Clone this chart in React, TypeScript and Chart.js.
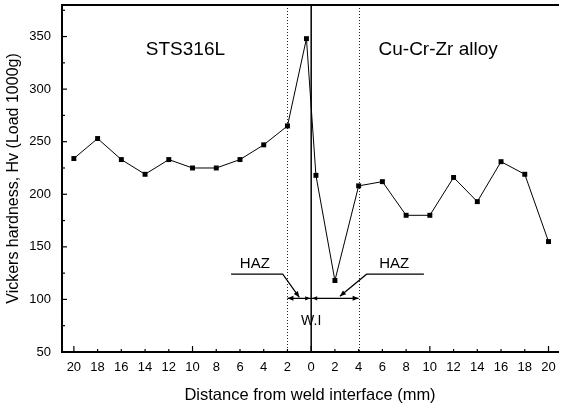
import React, { useEffect, useRef } from "react";
import { Chart, registerables } from "chart.js";

Chart.register(...registerables);

// ---- data ----
const distanceMm = [-20, -18, -16, -14, -12, -10, -8, -6, -4, -2, -0.4, 0.4, 2, 4, 6, 8, 10, 12, 14, 16, 18, 20];
const hardnessHv = [234, 253, 233, 219, 233, 225, 225, 233, 247, 265, 348, 218, 118, 208, 212, 180, 180, 216, 193, 231, 219, 155];
const xTickValues = [-20, -18, -16, -14, -12, -10, -8, -6, -4, -2, 0, 2, 4, 6, 8, 10, 12, 14, 16, 18, 20];
const yTickValues = [50, 100, 150, 200, 250, 300, 350];
const yMinorTicks = [75, 125, 175, 225, 275, 325, 375];
const hazBounds = [-2, 4];
const weldInterface = 0;
const regionLabels = ["STS316L", "Cu-Cr-Zr alloy"];
const regionLabelX = [-10.6, 10.7];
const regionLabelY = 337;

const FONT = '"Liberation Sans", Arial, Helvetica, sans-serif';

function arrowHead(ctx: CanvasRenderingContext2D, fx: number, fy: number, tx: number, ty: number, len = 6, wid = 2.5) {
  const ang = Math.atan2(ty - fy, tx - fx);
  ctx.beginPath();
  ctx.moveTo(tx, ty);
  ctx.lineTo(tx - len * Math.cos(ang) + wid * Math.sin(ang), ty - len * Math.sin(ang) - wid * Math.cos(ang));
  ctx.lineTo(tx - len * Math.cos(ang) - wid * Math.sin(ang), ty - len * Math.sin(ang) + wid * Math.cos(ang));
  ctx.closePath();
  ctx.fill();
}

const overlay = {
  id: "overlay",
  beforeDatasetsDraw(chart: any) {
    const { ctx, chartArea: a, scales } = chart;
    const x = scales.x;
    ctx.save();
    ctx.strokeStyle = "#222";
    ctx.lineWidth = 1;
    ctx.setLineDash([1, 2]);
    for (const v of hazBounds) {
      const px = Math.round(x.getPixelForValue(v)) + 0.5;
      ctx.beginPath();
      ctx.moveTo(px, a.top);
      ctx.lineTo(px, a.bottom);
      ctx.stroke();
    }
    ctx.setLineDash([]);
    ctx.strokeStyle = "#000";
    ctx.lineWidth = 1.5;
    const p0 = x.getPixelForValue(weldInterface);
    ctx.beginPath();
    ctx.moveTo(p0, a.top);
    ctx.lineTo(p0, a.bottom);
    ctx.stroke();
    ctx.restore();
  },
  afterDraw(chart: any) {
    const { ctx, chartArea: a, scales } = chart;
    const x = scales.x;
    const y = scales.y;
    ctx.save();
    ctx.strokeStyle = "#000";
    ctx.fillStyle = "#000";
    // top border
    ctx.lineWidth = 2;
    ctx.beginPath();
    ctx.moveTo(a.left, a.top);
    ctx.lineTo(a.right + 1, a.top);
    ctx.stroke();
    // inside ticks
    ctx.lineWidth = 1.2;
    for (const v of xTickValues) {
      const px = x.getPixelForValue(v);
      const len = v % 10 === 0 ? 6 : 3;
      ctx.beginPath();
      ctx.moveTo(px, a.bottom);
      ctx.lineTo(px, a.bottom - len);
      ctx.stroke();
    }
    for (const v of yTickValues) {
      const py = y.getPixelForValue(v);
      ctx.beginPath();
      ctx.moveTo(a.left, py);
      ctx.lineTo(a.left + 5, py);
      ctx.stroke();
    }
    for (const v of yMinorTicks) {
      const py = y.getPixelForValue(v);
      ctx.beginPath();
      ctx.moveTo(a.left, py);
      ctx.lineTo(a.left + 3, py);
      ctx.stroke();
    }
    // region labels
    ctx.font = `19px ${FONT}`;
    ctx.textAlign = "center";
    ctx.textBaseline = "middle";
    regionLabels.forEach((t, i) => {
      ctx.fillText(t, x.getPixelForValue(regionLabelX[i]), y.getPixelForValue(regionLabelY));
    });
    // HAZ annotations
    ctx.font = `15px ${FONT}`;
    ctx.fillText("HAZ", x.getPixelForValue(-4.75), y.getPixelForValue(134));
    ctx.fillText("HAZ", x.getPixelForValue(7.0), y.getPixelForValue(134));
    ctx.font = `14px ${FONT}`;
    ctx.fillText("W.I", x.getPixelForValue(0), y.getPixelForValue(79));

    ctx.lineWidth = 1.2;
    // left leader
    const lY = y.getPixelForValue(124);
    const lA = x.getPixelForValue(-6.75);
    const lB = x.getPixelForValue(-2.4);
    const lTx = x.getPixelForValue(-1.0);
    const lTy = y.getPixelForValue(102);
    ctx.beginPath();
    ctx.moveTo(lA, lY);
    ctx.lineTo(lB, lY);
    ctx.lineTo(lTx, lTy);
    ctx.stroke();
    arrowHead(ctx, lB, lY, lTx, lTy);
    // right leader
    const rA = x.getPixelForValue(9.5);
    const rB = x.getPixelForValue(4.67);
    const rTx = x.getPixelForValue(2.42);
    const rTy = y.getPixelForValue(103);
    ctx.beginPath();
    ctx.moveTo(rA, lY);
    ctx.lineTo(rB, lY);
    ctx.lineTo(rTx, rTy);
    ctx.stroke();
    arrowHead(ctx, rB, lY, rTx, rTy);
    // horizontal dimension arrows
    const hY = y.getPixelForValue(101);
    const h0 = x.getPixelForValue(hazBounds[0]);
    const h1 = x.getPixelForValue(hazBounds[1]);
    const hm = x.getPixelForValue(weldInterface);
    ctx.beginPath();
    ctx.moveTo(h0, hY);
    ctx.lineTo(h1, hY);
    ctx.stroke();
    arrowHead(ctx, hm, hY, h0, hY);
    arrowHead(ctx, hm, hY, h1, hY);
    arrowHead(ctx, h0, hY, hm - 1, hY, 5, 2.2);
    arrowHead(ctx, h1, hY, hm + 1, hY, 5, 2.2);
    ctx.restore();
  },
};

export default function App() {
  const ref = useRef<HTMLCanvasElement | null>(null);
  useEffect(() => {
    document.body.style.margin = "0";
    const canvas = ref.current;
    if (!canvas) return;
    const chart = new Chart(canvas, {
      type: "line",
      data: {
        datasets: [
          {
            data: distanceMm.map((d, i) => ({ x: d, y: hardnessHv[i] })),
            borderColor: "#000",
            backgroundColor: "#000",
            borderWidth: 1,
            pointStyle: "rect",
            pointRadius: 3.5,
            pointBorderWidth: 0,
            tension: 0,
          },
        ],
      },
      options: {
        animation: false,
        responsive: false,
        devicePixelRatio: 1,
        layout: { padding: { top: 5, right: 1, left: 0, bottom: 0 } },
        plugins: { legend: { display: false }, tooltip: { enabled: false } },
        scales: {
          x: {
            type: "linear",
            min: -21,
            max: 20.8,
            afterBuildTicks: (s: any) => {
              s.ticks = xTickValues.map((v) => ({ value: v }));
            },
            afterFit: (s: any) => {
              s.height = 55;
              s.paddingLeft = 0;
              s.paddingRight = 0;
              s.paddingTop = 0;
              s.paddingBottom = 0;
            },
            grid: { display: false, drawTicks: false },
            border: { display: true, color: "#000", width: 2 },
            ticks: {
              autoSkip: false,
              maxRotation: 0,
              padding: 8,
              color: "#000",
              font: { family: FONT, size: 13 },
              callback: (v: any) => String(Math.abs(Number(v))),
            },
            title: {
              display: true,
              text: "Distance from weld interface (mm)",
              color: "#000",
              font: { family: FONT, size: 16.5 },
              padding: { top: 0, bottom: 2 },
            },
          },
          y: {
            type: "linear",
            min: 50,
            max: 380,
            afterBuildTicks: (s: any) => {
              s.ticks = yTickValues.map((v) => ({ value: v }));
            },
            afterFit: (s: any) => {
              s.width = 62;
              s.paddingLeft = 0;
              s.paddingRight = 0;
              s.paddingTop = 0;
              s.paddingBottom = 0;
            },
            grid: { display: false, drawTicks: false },
            border: { display: true, color: "#000", width: 2 },
            ticks: {
              padding: 11,
              color: "#000",
              font: { family: FONT, size: 13 },
            },
            title: {
              display: true,
              text: "Vickers hardness, Hv (Load 1000g)",
              color: "#000",
              font: { family: FONT, size: 16 },
              padding: { top: 4, bottom: 4 },
            },
          },
        },
      },
      plugins: [overlay],
    } as any);
    return () => chart.destroy();
  }, []);
  return (
    <div style={{ position: "absolute", left: 0, top: 0, width: 562, height: 407, background: "#fff" }}>
      <canvas ref={ref} width={562} height={407} style={{ display: "block" }} />
    </div>
  );
}
